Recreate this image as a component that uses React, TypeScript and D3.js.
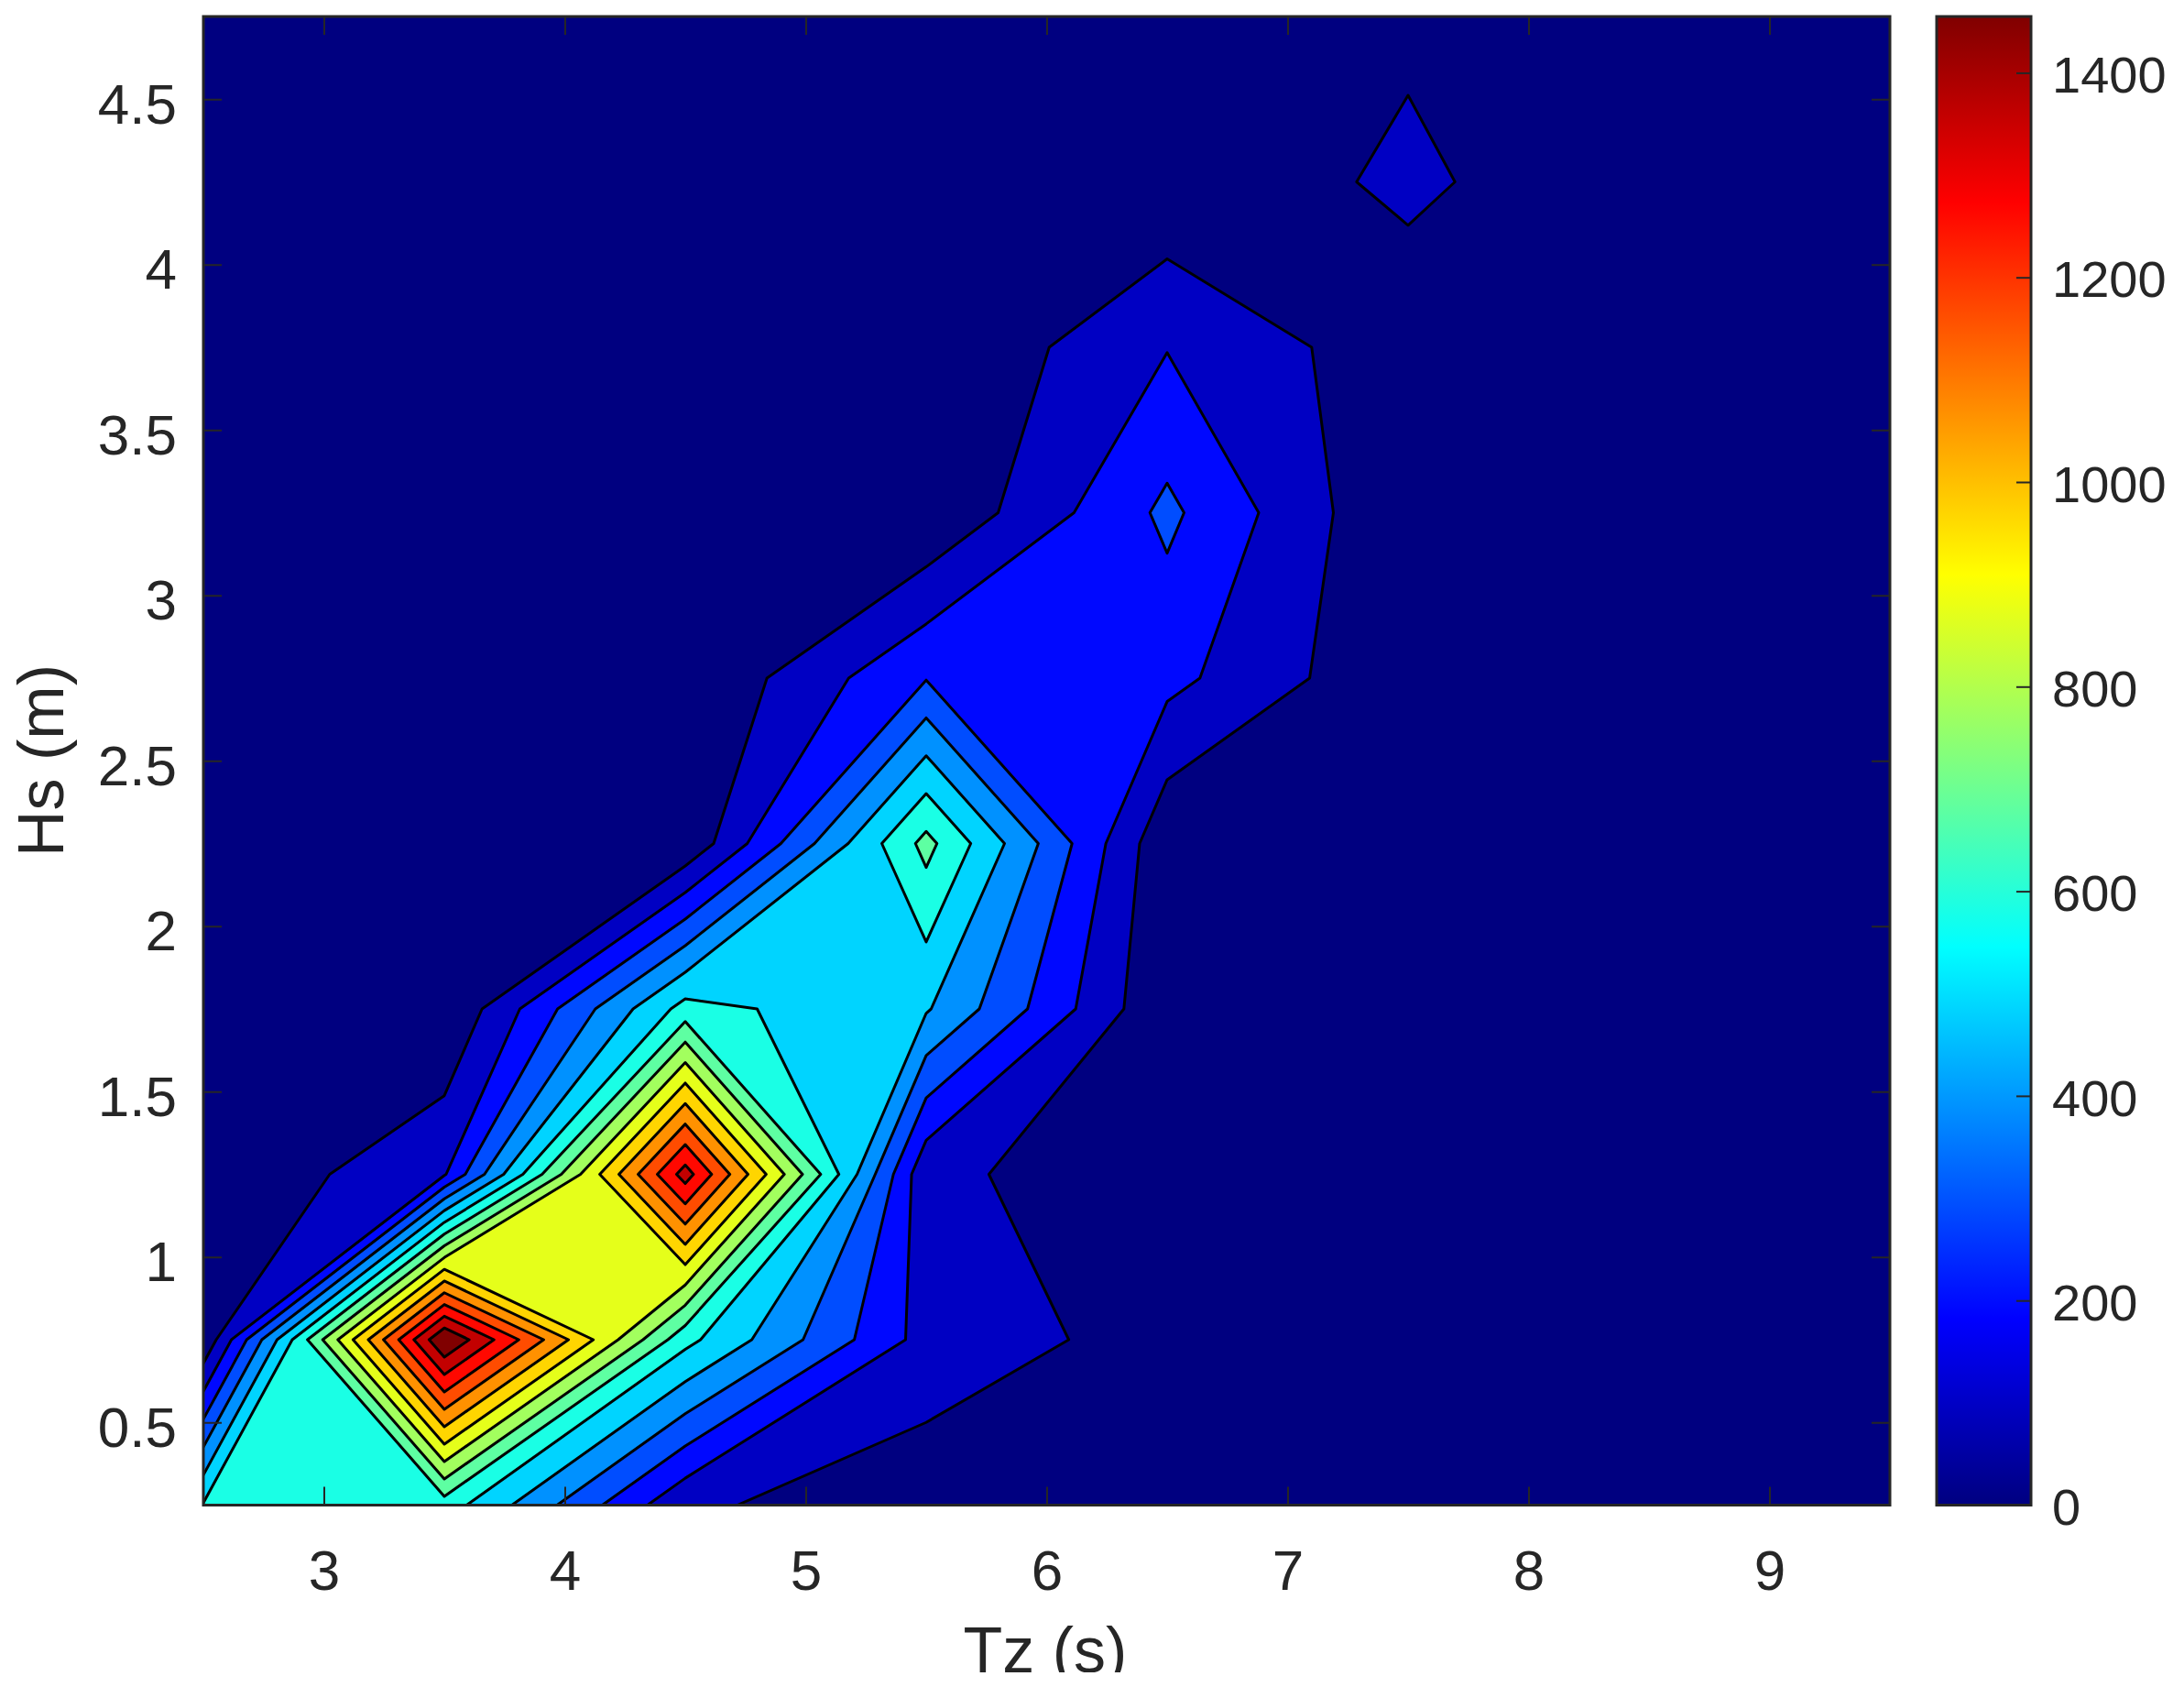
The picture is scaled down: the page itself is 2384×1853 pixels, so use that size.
import { useEffect, useRef } from 'react';
import * as d3 from 'd3';

// grid the occurrence counts were binned on
const tzBins = [2.5, 3.5, 4.5, 5.5, 6.5, 7.5, 8.5, 9.5];
const hsBins = [0.25, 0.75, 1.25, 1.75, 2.25, 2.75, 3.25, 3.75, 4.25, 4.75];

// one row per Hs bin
const hs025 = [590, 630, 113, 39, 0, 0, 0, 0];
const hs075 = [15, 1552, 611, 155, 57, 0, 0, 0];
const hs125 = [0, 185, 1402, 116, 43, 0, 0, 0];
const hs175 = [0, 0, 619, 495, 10, 0, 0, 0];
const hs225 = [0, 0, 15, 710, 18, 0, 0, 0];
const hs275 = [0, 0, 0, 286, 223, 10, 0, 0];
const hs325 = [0, 0, 0, 5, 313, 0, 0, 0];
const hs375 = [0, 0, 0, 0, 190, 35, 0, 0];
const hs425 = [0, 0, 0, 0, 16, 119, 6, 0];
const hs475 = [0, 0, 0, 0, 0, 77, 0, 0];

const levelStep = 97;
const levelCount = 15;
const colorMax = 1455;

const tzTicks = [3, 4, 5, 6, 7, 8, 9];
const hsTicks = [0.5, 1, 1.5, 2, 2.5, 3, 3.5, 4, 4.5];
const colorTicks = [0, 200, 400, 600, 800, 1000, 1200, 1400];

const WIDTH = 2384;
const HEIGHT = 1853;
const FONT = '"Liberation Sans", Arial, sans-serif';
const INK = '#262626';

// MATLAB jet
function jet(t: number) {
  const c = (v: number) => Math.round(255 * Math.max(0, Math.min(1, v)));
  const r = Math.min(4 * t - 1.5, -4 * t + 4.5);
  const g = Math.min(4 * t - 0.5, -4 * t + 3.5);
  const b = Math.min(4 * t + 0.5, -4 * t + 2.5);
  return `rgb(${c(r)},${c(g)},${c(b)})`;
}

// d3.contours always cuts the high corners of a saddle cell apart, MATLAB
// joins them when the cell average is above the level
function joinsSaddle(values: number[], nx: number, ny: number, level: number) {
  for (let j = 0; j < ny - 1; j++) {
    for (let i = 0; i < nx - 1; i++) {
      const a = values[j * nx + i];
      const b = values[j * nx + i + 1];
      const d = values[(j + 1) * nx + i];
      const e = values[(j + 1) * nx + i + 1];
      const saddle = (a >= level) === (e >= level) && (b >= level) === (d >= level) && (a >= level) !== (b >= level);
      if (saddle && (a + b + d + e) / 4 >= level) return true;
    }
  }
  return false;
}

export default function App() {
  const svgRef = useRef<SVGSVGElement>(null);

  useEffect(() => {
    if (!svgRef.current) return;
    const svg = d3.select(svgRef.current);
    svg.selectAll('*').remove();

    const plot = { left: 222, right: 2063, top: 18, bottom: 1642.5 };
    const bar = { left: 2114, right: 2217 };

    const x = d3.scaleLinear().domain([2.5, 9.5]).range([plot.left, plot.right]);
    const y = d3.scaleLinear().domain([0.25, 4.75]).range([plot.bottom, plot.top]);
    const c = d3.scaleLinear().domain([0, colorMax]).range([plot.bottom, plot.top]);

    const defs = svg.append('defs');
    defs.append('clipPath').attr('id', 'plot-clip')
      .append('rect')
      .attr('x', plot.left)
      .attr('y', plot.top)
      .attr('width', plot.right - plot.left)
      .attr('height', plot.bottom - plot.top);
    // the x label is cut off along its baseline in the original
    defs.append('clipPath').attr('id', 'page-clip')
      .append('rect')
      .attr('width', WIDTH)
      .attr('height', 1825);

    // Contours
    const values = [hs025, hs075, hs125, hs175, hs225, hs275, hs325, hs375, hs425, hs475].flat();
    const negated = values.map(v => -v);
    const nx = tzBins.length;
    const ny = hsBins.length;
    const levels = d3.range(1, levelCount + 1).map(k => k * levelStep);
    const contours = d3.contours().size([nx, ny]);

    // d3 puts grid value i at i + 0.5
    const tzAt = d3.scaleLinear().domain([0.5, nx - 0.5]).range([tzBins[0], tzBins[nx - 1]]);
    const hsAt = d3.scaleLinear().domain([0.5, ny - 0.5]).range([hsBins[0], hsBins[ny - 1]]);
    const path = d3.geoPath(d3.geoTransform({
      point(px, py) {
        this.stream.point(x(tzAt(px)), y(hsAt(py)));
      }
    }));

    // frame well outside the clip, used to turn a low region into its complement
    const pad = 400;
    const outer = `M${plot.left - pad},${plot.top - pad}H${plot.right + pad}V${plot.bottom + pad}H${plot.left - pad}Z`;

    const field = svg.append('g').attr('clip-path', 'url(#plot-clip)');
    field.append('rect')
      .attr('x', plot.left)
      .attr('y', plot.top)
      .attr('width', plot.right - plot.left)
      .attr('height', plot.bottom - plot.top)
      .attr('fill', jet(0));
    field.selectAll('path')
      .data(levels)
      .join('path')
      .attr('d', level => joinsSaddle(values, nx, ny, level)
        ? outer + path(contours.contour(negated, -level))
        : path(contours.contour(values, level)))
      .attr('fill-rule', 'evenodd')
      .attr('fill', level => jet(level / colorMax))
      .attr('stroke', '#000')
      .attr('stroke-width', 3)
      .attr('stroke-linejoin', 'round');

    // Axes, ticks point inward on all four sides
    const styleAxis = (g: any, size: number) => {
      g.select('.domain').remove();
      g.selectAll('line').attr('stroke', INK).attr('stroke-width', 2);
      g.selectAll('text').attr('fill', INK).style('font-family', FONT).style('font-size', `${size}px`);
    };

    svg.append('g')
      .attr('transform', `translate(0,${plot.bottom})`)
      .call(d3.axisBottom(x).tickValues(tzTicks).tickFormat(d3.format('d')).tickSizeInner(-20).tickSizeOuter(0).tickPadding(48))
      .call(styleAxis, 62);
    svg.append('g')
      .attr('transform', `translate(0,${plot.top})`)
      .call(d3.axisTop(x).tickValues(tzTicks).tickFormat(() => '').tickSizeInner(-20).tickSizeOuter(0))
      .call(styleAxis, 62);
    svg.append('g')
      .attr('transform', `translate(${plot.left},0)`)
      .call(d3.axisLeft(y).tickValues(hsTicks).tickFormat(d => String(d)).tickSizeInner(-20).tickSizeOuter(0).tickPadding(29))
      .call(styleAxis, 62)
      .selectAll('text').attr('dy', '0.42em');
    svg.append('g')
      .attr('transform', `translate(${plot.right},0)`)
      .call(d3.axisRight(y).tickValues(hsTicks).tickFormat(() => '').tickSizeInner(-20).tickSizeOuter(0))
      .call(styleAxis, 62);

    svg.append('rect')
      .attr('x', plot.left)
      .attr('y', plot.top)
      .attr('width', plot.right - plot.left)
      .attr('height', plot.bottom - plot.top)
      .attr('fill', 'none')
      .attr('stroke', INK)
      .attr('stroke-width', 3);

    // Axis titles
    svg.append('g').attr('clip-path', 'url(#page-clip)')
      .append('text')
      .attr('x', 1141)
      .attr('y', 1825)
      .attr('text-anchor', 'middle')
      .attr('fill', INK)
      .style('font-family', FONT)
      .style('font-size', '70px')
      .text('Tz (s)');
    svg.append('text')
      .attr('transform', 'translate(69,830) rotate(-90)')
      .attr('text-anchor', 'middle')
      .attr('fill', INK)
      .style('font-family', FONT)
      .style('font-size', '70px')
      .text('Hs (m)');

    // Colorbar
    const gradient = defs.append('linearGradient')
      .attr('id', 'jet-bar')
      .attr('x1', 0).attr('y1', 1)
      .attr('x2', 0).attr('y2', 0);
    [0, 0.125, 0.375, 0.625, 0.875, 1].forEach(t => {
      gradient.append('stop').attr('offset', t).attr('stop-color', jet(t));
    });
    svg.append('rect')
      .attr('x', bar.left)
      .attr('y', plot.top)
      .attr('width', bar.right - bar.left)
      .attr('height', plot.bottom - plot.top)
      .attr('fill', 'url(#jet-bar)')
      .attr('stroke', INK)
      .attr('stroke-width', 3);
    svg.append('g')
      .attr('transform', `translate(${bar.right},0)`)
      .call(d3.axisRight(c).tickValues(colorTicks).tickFormat(d3.format('d')).tickSizeInner(-16).tickSizeOuter(0).tickPadding(23))
      .call(styleAxis, 56)
      .selectAll('text').attr('dy', '0.38em');
  }, []);

  return (
    <svg
      ref={svgRef}
      width={WIDTH}
      height={HEIGHT}
      style={{ position: 'absolute', left: 0, top: 0, background: '#fff' }}
    />
  );
}
